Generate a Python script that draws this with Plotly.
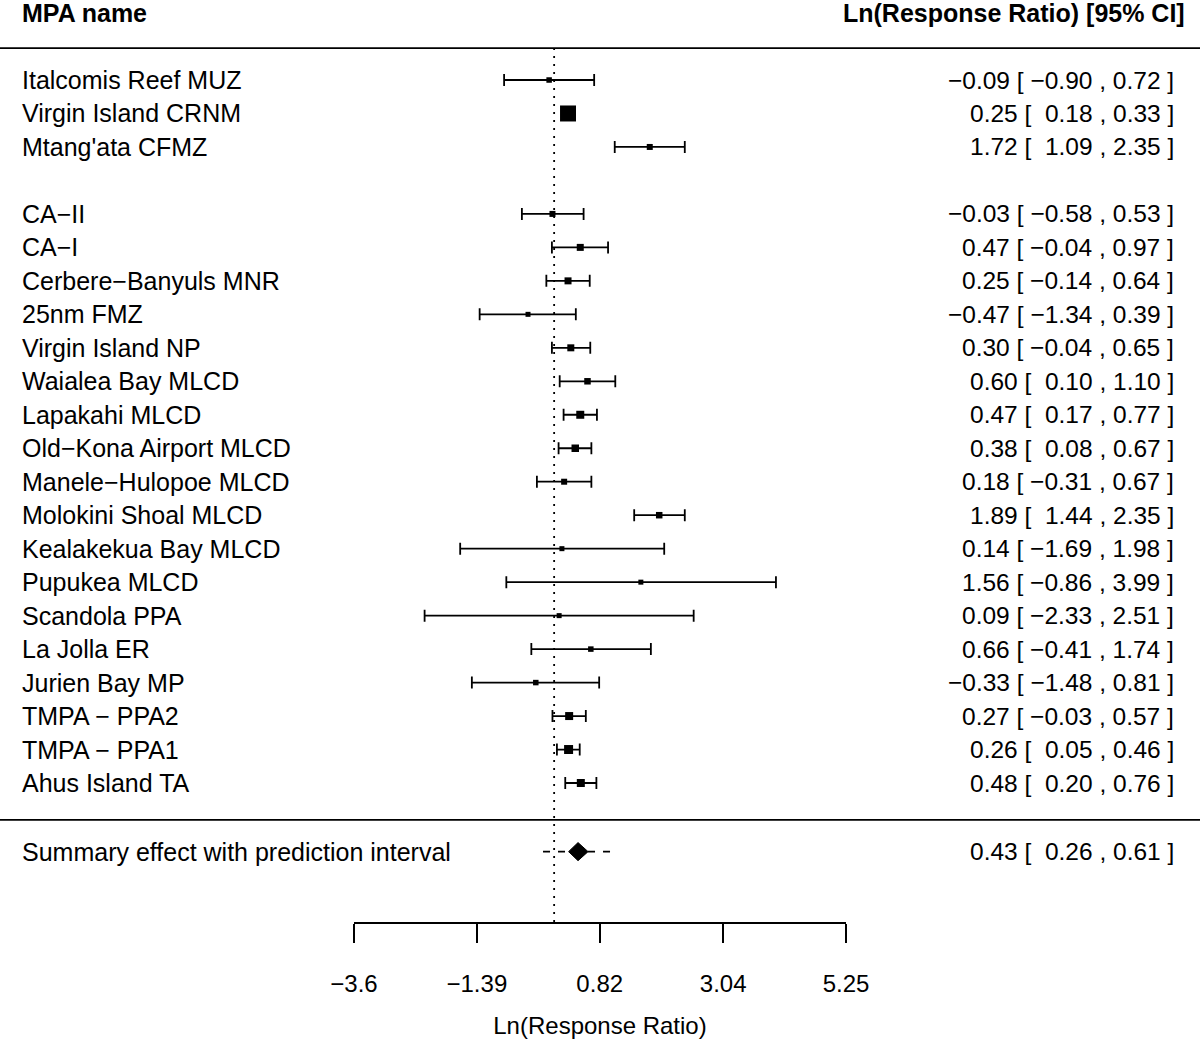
import plotly.graph_objects as go

# ---------------- data ----------------
mpa_names = ["Italcomis Reef MUZ", "Virgin Island CRNM", "Mtang'ata CFMZ",
             "CA−II", "CA−I", "Cerbere−Banyuls MNR", "25nm FMZ", "Virgin Island NP",
             "Waialea Bay MLCD", "Lapakahi MLCD", "Old−Kona Airport MLCD",
             "Manele−Hulopoe MLCD", "Molokini Shoal MLCD", "Kealakekua Bay MLCD",
             "Pupukea MLCD", "Scandola PPA", "La Jolla ER", "Jurien Bay MP",
             "TMPA − PPA2", "TMPA − PPA1", "Ahus Island TA"]
rows = [22, 21, 20, 18, 17, 16, 15, 14, 13, 12, 11, 10, 9, 8, 7, 6, 5, 4, 3, 2, 1]
estimate = [-0.09, 0.25, 1.72, -0.03, 0.47, 0.25, -0.47, 0.30, 0.60, 0.47, 0.38,
            0.18, 1.89, 0.14, 1.56, 0.09, 0.66, -0.33, 0.27, 0.26, 0.48]
ci_lower = [-0.90, 0.18, 1.09, -0.58, -0.04, -0.14, -1.34, -0.04, 0.10, 0.17, 0.08,
            -0.31, 1.44, -1.69, -0.86, -2.33, -0.41, -1.48, -0.03, 0.05, 0.20]
ci_upper = [0.72, 0.33, 2.35, 0.53, 0.97, 0.64, 0.39, 0.65, 1.10, 0.77, 0.67,
            0.67, 2.35, 1.98, 3.99, 2.51, 1.74, 0.81, 0.57, 0.46, 0.76]
weight_px = [5.5, 16, 6, 6, 7, 7, 5, 7, 6.5, 8, 7.5, 6, 6.5, 5, 5, 5, 5.5, 5.5, 8, 9, 8]

summary_label = "Summary effect with prediction interval"
summary_row = -1.05
summary_est = 0.43
summary_lo = 0.26
summary_hi = 0.61
pi_lo = -0.20
pi_hi = 1.05

tick_vals = [-3.6, -1.39, 0.82, 3.04, 5.25]
tick_text = ["−3.6", "−1.39", "0.82", "3.04", "5.25"]

header_left = "MPA name"
header_right = "Ln(Response Ratio) [95% CI]"
x_title = "Ln(Response Ratio)"

# ---------------- helpers ----------------
NB = "\u00a0"


def fmt(v, pad=False):
    s = f"{abs(v):.2f}"
    if v < 0:
        return "−" + s
    return (NB + s) if pad else s


def ci_text(e, l, u):
    return f"{fmt(e)}{NB}[{NB}{fmt(l, True)}{NB},{NB}{fmt(u)}{NB}]"


FONT = "Liberation Sans, Arial, Helvetica, sans-serif"
FS = 25
W = 1200.0

fig = go.Figure()

# prediction interval (dashed)
fig.add_trace(go.Scatter(
    x=[pi_lo, pi_hi], y=[summary_row, summary_row], mode="lines",
    line=dict(color="black", width=1.6, dash="7px,8px"),
    hoverinfo="skip", showlegend=False))

# confidence intervals (error bars)
fig.add_trace(go.Scatter(
    x=estimate, y=rows, mode="markers",
    marker=dict(symbol="square", size=1, color="black", opacity=1, line=dict(width=0)),
    error_x=dict(type="data", symmetric=False,
                 array=[u - e for u, e in zip(ci_upper, estimate)],
                 arrayminus=[e - l for e, l in zip(estimate, ci_lower)],
                 color="black", thickness=1.8, width=6),
    hoverinfo="skip", showlegend=False))

# study estimates (squares sized by weight)
fig.add_trace(go.Scatter(
    x=estimate, y=rows, mode="markers",
    marker=dict(symbol="square", size=weight_px, color="black", opacity=1,
                line=dict(width=0)),
    showlegend=False, text=mpa_names))

# summary diamond
dh = 0.27
fig.add_trace(go.Scatter(
    x=[summary_lo, summary_est, summary_hi, summary_est, summary_lo],
    y=[summary_row, summary_row + dh, summary_row, summary_row - dh, summary_row],
    mode="lines", fill="toself", fillcolor="black",
    line=dict(color="black", width=1), hoverinfo="skip", showlegend=False))

# reference line at 0
fig.add_shape(type="line", xref="x", yref="y", x0=0, x1=0, y0=-3.15, y1=22.95,
              line=dict(color="black", width=1.8, dash="2px,6px"), layer="below")
# horizontal rules
for yy in (22.95, -0.1):
    fig.add_shape(type="line", xref="paper", yref="y", x0=0, x1=1, y0=yy, y1=yy,
                  line=dict(color="black", width=1.8))

XL = 20 / W
XR = 1176 / W
XH = 1187 / W

ann = []
for n, r, e, l, u in zip(mpa_names, rows, estimate, ci_lower, ci_upper):
    ann.append(dict(x=XL, xref="paper", y=r, yref="y", text=n,
                    xanchor="left", yanchor="middle", showarrow=False,
                    font=dict(size=FS, color="black", family=FONT)))
    ann.append(dict(x=XR, xref="paper", y=r, yref="y", text=ci_text(e, l, u),
                    xanchor="right", yanchor="middle", showarrow=False,
                    font=dict(size=FS - 0.5, color="black", family=FONT)))
ann.append(dict(x=XL, xref="paper", y=summary_row, yref="y", text=summary_label,
                xanchor="left", yanchor="middle", showarrow=False,
                font=dict(size=FS, color="black", family=FONT)))
ann.append(dict(x=XR, xref="paper", y=summary_row, yref="y",
                text=ci_text(summary_est, summary_lo, summary_hi),
                xanchor="right", yanchor="middle", showarrow=False,
                font=dict(size=FS - 0.5, color="black", family=FONT)))
ann.append(dict(x=XL, xref="paper", y=24, yref="y", text="<b>" + header_left + "</b>",
                xanchor="left", yanchor="middle", showarrow=False,
                font=dict(size=FS, color="black", family=FONT)))
ann.append(dict(x=XH, xref="paper", y=24, yref="y", text="<b>" + header_right + "</b>",
                xanchor="right", yanchor="middle", showarrow=False,
                font=dict(size=FS, color="black", family=FONT)))

fig.update_layout(
    template="none",
    width=1200, height=1049,
    margin=dict(l=0, r=0, t=0, b=127, pad=0, autoexpand=False),
    paper_bgcolor="white", plot_bgcolor="white",
    font=dict(family=FONT, size=FS, color="black"),
    annotations=ann,
    xaxis=dict(domain=[354 / W, 846 / W], range=[-3.6, 5.25],
               tickvals=tick_vals, ticktext=tick_text, automargin=False,
               ticks="outside", ticklen=19, tickwidth=1.6, tickcolor="black",
               showline=True, linecolor="black", linewidth=1.6,
               showgrid=False, zeroline=False, ticklabelstandoff=20,
               tickfont=dict(size=24, family=FONT, color="black"),
               title=dict(text=x_title, standoff=22,
                          font=dict(size=24, family=FONT, color="black"))),
    yaxis=dict(range=[-3.152, 24.39], visible=False, showgrid=False, zeroline=False,
               automargin=False),
)

fig.write_html("out.html",
               config={"displayModeBar": False},
               post_script="document.body.style.margin='0';"
                           "document.body.style.overflow='hidden';")
